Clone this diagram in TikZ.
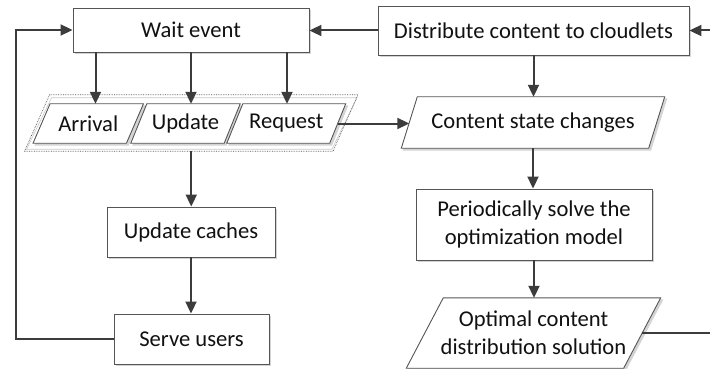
\documentclass[tikz,border=0pt]{standalone}
\usepackage{fontspec}
\setmainfont{Carlito}
\usetikzlibrary{arrows.meta,shadows,backgrounds}

\definecolor{linecol}{HTML}{3C3C3C}
\definecolor{boxcol}{HTML}{555555}
\definecolor{textcol}{HTML}{111111}
\definecolor{shadecol}{HTML}{D4D4D4}

\tikzset{
  label text/.style={inner sep=0pt, font=\fontsize{22.6}{28}\selectfont, text=textcol, align=center},
  box/.style={label text, draw=boxcol, line width=0.9pt, fill=white,
    drop shadow={shadow xshift=2pt, shadow yshift=-2pt, fill=shadecol, opacity=1}},
  slanted/.style={label text},
  flow/.style={draw=linecol, line width=2pt, -{Triangle[length=12pt,width=11pt]}},
}

% parallelogram outline round a node: #2 = node name, #3 = horizontal slant
\newcommand\slantframe[3][]{%
  \begin{pgfonlayer}{background}
    \draw[shadecol, line width=0.9pt, fill=shadecol]
      ([shift={(#3/2+2,2)}]#2.north west) -- ([shift={(#3/2+2,2)}]#2.north east)
      -- ([shift={(-#3/2+2,2)}]#2.south east) -- ([shift={(-#3/2+2,2)}]#2.south west) -- cycle;
    \draw[draw=boxcol, line width=0.9pt, fill=white, #1]
      ([shift={(#3/2,0)}]#2.north west) -- ([shift={(#3/2,0)}]#2.north east)
      -- ([shift={(-#3/2,0)}]#2.south east) -- ([shift={(-#3/2,0)}]#2.south west) -- cycle;
  \end{pgfonlayer}}

\begin{document}
\begin{tikzpicture}[x=1pt, y=-1pt]
  \useasboundingbox (0,0) rectangle (710,369);

  % rectangular steps
  \node[box, minimum width=236, minimum height=44] (wait) at (191,30) {Wait event};
  \node[box, minimum width=311, minimum height=49] (distribute) at (533.5,30.5) {Distribute content to cloudlets};
  \node[box, minimum width=168, minimum height=50] (caches) at (191,232) {Update caches};
  \node[box, minimum width=155, minimum height=50] (serve) at (191.5,339) {Serve users};
  \node[box, minimum width=236, minimum height=71] (solve) at (534,224.5) {Periodically solve the\\optimization model};

  % event group and its three event kinds
  \node[inner sep=0pt, minimum width=308, minimum height=56] (events) at (191.25,123) {};
  \node[slanted, minimum width=93, minimum height=39] (arrival) at (88.25,123.5) {Arrival};
  \node[slanted, minimum width=93, minimum height=39] (update) at (185.5,123.5) {Update};
  \node[slanted, minimum width=102.5, minimum height=39] (request) at (286.25,123.5) {Request};

  % data steps
  \node[slanted, minimum width=247, minimum height=51] (content) at (533,122.5) {Content state changes};
  \node[slanted, minimum width=217, minimum height=70] (optimal) at (533.5,333) {Optimal content\\distribution solution};

  % outlines
  \begin{pgfonlayer}{background}
    \draw[black!22, line width=0.6pt]
      ([shift={(25/2+2,3)}]events.north west) -- ([shift={(25/2-1,3)}]events.north east)
      -- ([shift={(-25/2-1,-2)}]events.south east) -- ([shift={(-25/2+2,-2)}]events.south west) -- cycle;
    \draw[boxcol, line width=0.7pt, densely dotted]
      ([shift={(25/2,0)}]events.north west) -- ([shift={(25/2,0)}]events.north east)
      -- ([shift={(-25/2,0)}]events.south east) -- ([shift={(-25/2,0)}]events.south west) -- cycle;
  \end{pgfonlayer}
  \slantframe{arrival}{17}
  \slantframe{update}{16}
  \slantframe{request}{16}
  \slantframe{content}{16}
  \slantframe{optimal}{37}

  % taps from the waiting step to the event kinds
  \coordinate (tapA) at ([xshift=-95.5]wait.south);
  \coordinate (tapU) at (wait.south);
  \coordinate (tapR) at ([xshift=96]wait.south);
  \draw[flow] (tapA) -- (tapA |- arrival.north);
  \draw[flow] (tapU) -- (tapU |- update.north);
  \draw[flow] (tapR) -- (tapR |- request.north);

  % left chain
  \draw[flow] (events.south) -- (events.south |- caches.north);
  \draw[flow] (caches.south) -- (caches.south |- serve.north);
  \draw[flow] (serve.west) -- ++(-98,0) |- (wait.west);

  % right chain
  \draw[flow] (request.east) -- (request.east -| content.west);
  \draw[flow] (distribute.west) -- (distribute.west -| wait.east);
  \draw[flow] (distribute.south) -- (distribute.south |- content.north);
  \draw[flow] (content.south) -- (content.south |- solve.north);
  \draw[flow] (solve.south) -- (solve.south |- optimal.north);
  \begin{scope}
    \clip (0,0) rectangle (710,369);
    \draw[flow] (optimal.east) -- (725,333) |- (distribute.east);
  \end{scope}
\end{tikzpicture}
\end{document}
